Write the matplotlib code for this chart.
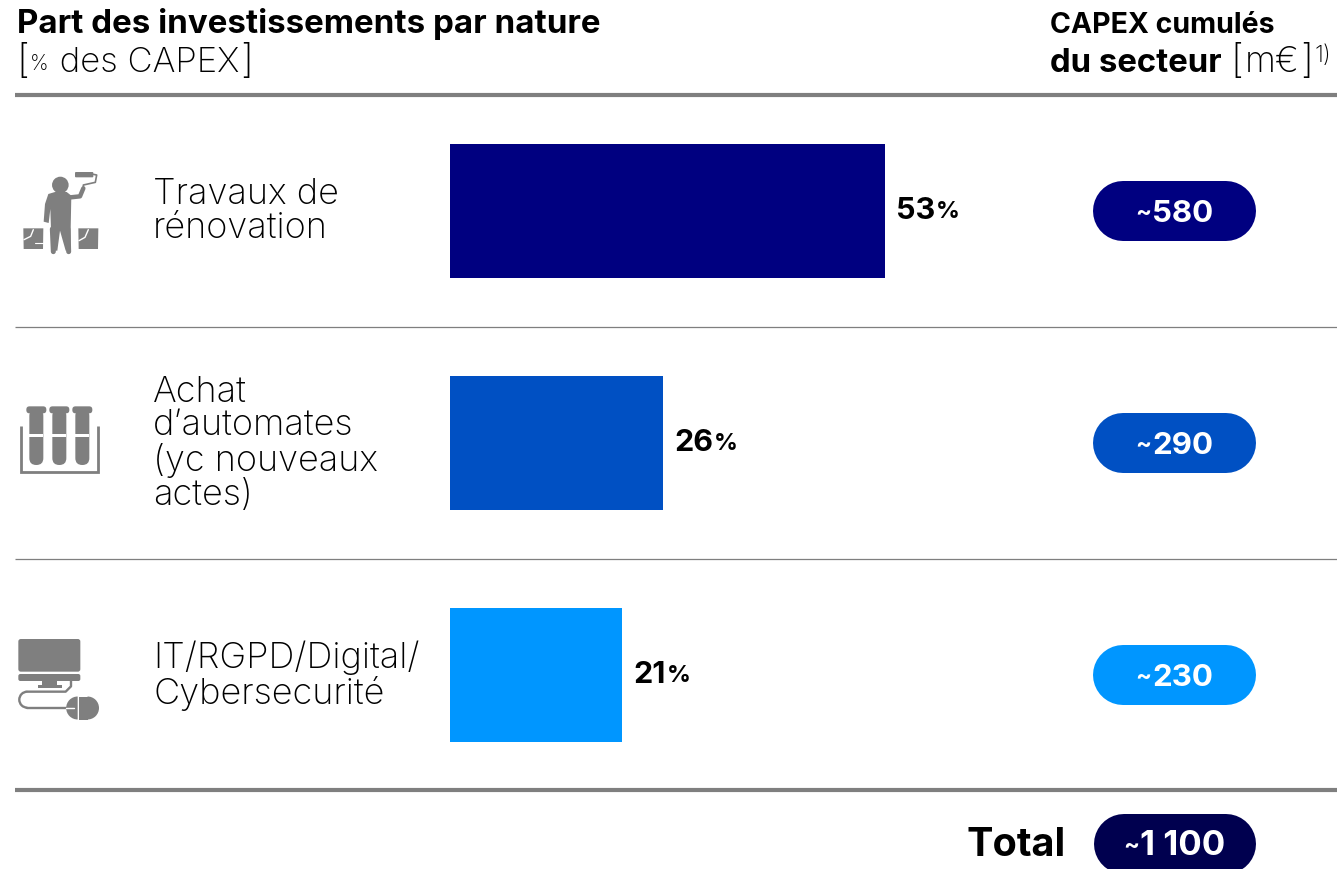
import matplotlib
matplotlib.use('Agg')
import matplotlib.pyplot as plt
from matplotlib.patches import Rectangle, Circle, FancyBboxPatch, Polygon, Wedge, Arc

categories = ['Travaux de\nrénovation', "Achat\nd’automates\n(yc nouveaux\nactes)", 'IT/RGPD/Digital/\nCybersecurité']
shares = [53, 26, 21]
capex = ['580', '290', '230']
total_label = '1 100'
colors = ['#000080', '#0050C3', '#0096FF']
total_color = '#00004F'
grey = '#7F7F7F'

plt.rcParams['font.family'] = ['Inter', 'DejaVu Sans']

W, H = 1337, 870
fig = plt.figure(figsize=(W / 100, H / 100), dpi=100)
ax = fig.add_axes([0, 0, 1, 1])
ax.set_xlim(0, W)
ax.set_ylim(H, 0)
ax.axis('off')

# bars live in their own axes, 8.2 px per percent
bx = fig.add_axes([450 / W, 1 - 792 / H, 60 * 8.2 / W, 696 / H])
bx.set_xlim(0, 60)
bx.set_ylim(2.5, -0.5)
bx.axis('off')
bx.barh(range(3), shares, height=134 / 232, color=colors)


def runs(x, y, parts, color='black', center=False):
    # consecutive text pieces on one baseline
    r = fig.canvas.get_renderer()
    items = []
    x0 = x
    for s, size, weight, dy in parts:
        t = ax.text(x, y + dy, s, fontsize=size, fontweight=weight, color=color, va='baseline', ha='left')
        w = t.get_window_extent(r).width
        items.append(t)
        x += w + 1
    if center:
        shift = (x - 1 - x0) / 2
        for t in items:
            t.set_x(t.get_position()[0] - shift)


def pill(x0, x1, yc, col):
    # 60 px tall stadium
    ax.plot([x0 + 30, x1 - 30], [yc, yc], color=col, lw=60 * 0.72, solid_capstyle='round')


# header
runs(17, 33, [('Part des investissements par nature', 23.8, 'bold', 0)])
runs(16, 72, [('[', 28, 'light', 1), ('%', 15, 'light', -2), (' des CAPEX', 25, 'light', 0), (']', 28, 'light', 1)])
runs(1050, 33, [('CAPEX cumulés', 20.5, 'bold', 0)])
runs(1050, 72, [('du secteur ', 23.7, 'bold', 0), ('[', 28, 'light', 1), ('m€', 25.5, 'light', 0), (']', 28, 'light', 1), ('1)', 17, 'light', -10)])

# rules
ax.plot([15, W], [95.5, 95.5], color=grey, lw=3, solid_capstyle='butt')
ax.plot([15, W], [327.5, 327.5], color=grey, lw=0.9, solid_capstyle='butt')
ax.plot([15, W], [559.5, 559.5], color=grey, lw=0.9, solid_capstyle='butt')
ax.plot([15, W], [791, 791], color=grey, lw=3, solid_capstyle='butt')

# rows
for i, (cat, share, cap, col) in enumerate(zip(categories, shares, capex, colors)):
    yc = 211 + 232 * i
    ax.text(153, yc + 0.5, cat, fontsize=26, fontweight='light', va='center', ha='left', linespacing=1.03)
    x_end = 450 + share * 8.2
    runs(x_end + 11, yc + 8, [(f'{share}', 22, 'bold', 0), ('%', 17, 'bold', -1)])
    pill(1093, 1256, yc + 0.5, col)
    runs(1174.5, yc + 11, [('~', 17, 'bold', -3), (cap, 22.5, 'bold', 0)], color='white', center=True)

# total
runs(967, 856, [('Total', 28.5, 'bold', 0)])
pill(1094, 1256, 844.5, total_color)
runs(1174.5, 855, [('~', 17, 'bold', -3), (total_label, 25, 'bold', 0)], color='white', center=True)


# icons in 3x crop coordinates
def add_poly(pts, oy, fc=grey):
    ax.add_patch(Polygon([(x / 3, oy + y / 3) for x, y in pts], closed=True, fc=fc, ec='none'))


def add_line(pts, oy, lw, col=grey):
    ax.plot([x / 3 for x, y in pts], [oy + y / 3 for x, y in pts], color=col, lw=lw, solid_capstyle='round', solid_joinstyle='round')


def add_rrect(x0, y0, x1, y1, oy, r=3, fc=grey):
    ax.add_patch(FancyBboxPatch((x0 / 3 + r, oy + y0 / 3 + r), (x1 - x0) / 3 - 2 * r, (y1 - y0) / 3 - 2 * r,
                                boxstyle=f'round,pad={r},rounding_size={r}', fc=fc, ec='none'))


# painter
oy = 150
ax.add_patch(Circle((181 / 3, oy + 108 / 3), 8.3, fc=grey, ec='none'))
add_poly([(145, 135), (165, 129), (200, 129), (214, 140), (212, 240), (212, 305), (197, 305), (180, 245), (172, 305), (155, 305),
          (151, 180), (146, 222), (131, 218), (135, 165)], oy)
add_line([(157, 240), (160, 308)], oy, 3.6)
add_line([(204, 240), (206, 308)], oy, 3.6)
add_line([(212, 145), (240, 142), (250, 118)], oy, 3.2)
add_rrect(225, 69, 280, 85, oy, r=1)
add_line([(280, 76), (290, 78), (286, 100), (250, 108), (250, 120)], oy, 1.2)
for x0, x1 in [(70, 130), (235, 295)]:
    add_poly([(x0, 238), (x1, 238), (x1 - 1, 300), (x0 + 1, 300)], oy)
add_line([(72, 272), (92, 262), (100, 242)], oy, 1.0, 'white')
add_line([(105, 282), (130, 282)], oy, 0.8, 'white')
add_line([(237, 275), (255, 265), (265, 242)], oy, 1.0, 'white')

# tubes
oy = 390
for xc in [109, 178, 247]:
    add_rrect(xc - 30, 52, xc + 30, 73, oy, r=3.2)
    add_rrect(xc - 21, 60, xc + 21, 228, oy, r=6.9)
    add_poly([(xc - 21, 135), (xc + 21, 135), (xc + 21, 144), (xc - 21, 144)], oy, fc='white')
ax.plot([21, 21, 97.5, 97.5], [427, 472.5, 472.5, 427], color=grey, lw=2, solid_joinstyle='miter', solid_capstyle='butt')

# computer
oy = 630
add_rrect(55, 30, 241, 128, oy, r=2.5)
add_rrect(55, 135, 241, 156, oy, r=2)
add_poly([(125, 155), (172, 155), (172, 168), (185, 168), (185, 176), (113, 176), (113, 168), (125, 168)], oy)
add_line([(213, 156), (213, 172), (197, 188), (82, 188)], oy, 1.7)
add_line([(82, 236), (197, 236)], oy, 1.7)
ax.add_patch(Arc((27.3, oy + 212 / 3), 16, 16, theta1=90, theta2=270, color=grey, lw=1.7))
ax.add_patch(Wedge((233 / 3, oy + 237 / 3), 11.5, 90, 270, fc=grey, ec='none'))
ax.add_patch(Rectangle((79, oy + 237 / 3 - 11.5), 8.5, 23, fc=grey, ec='none'))
ax.add_patch(Wedge((87.5, oy + 237 / 3), 11.5, -90, 90, fc=grey, ec='none'))
add_line([(197, 236), (222, 236)], oy, 1.0, 'white')

fig.savefig('out.png', dpi=100)
